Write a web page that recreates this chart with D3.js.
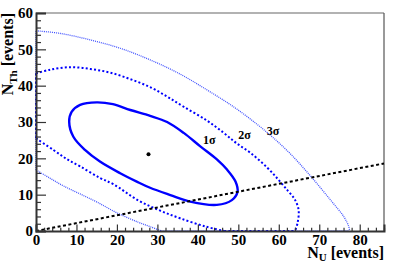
<!DOCTYPE html>
<html>
<head>
<meta charset="utf-8">
<script src="https://cdn.jsdelivr.net/npm/d3@7"></script>
<style>
  body { margin: 0; background: #fff; }
  svg { display: block; }
</style>
</head>
<body>
<svg width="407" height="264"></svg>
<script>
// axis ranges and ticks
var xDomain = [0, 86],
    yDomain = [0, 60];
var xMajor = [0, 10, 20, 30, 40, 50, 60, 70, 80],
    yMajor = [0, 10, 20, 30, 40, 50, 60];

// best fit point
var bestFit = [27.8, 21.1];

// 1 sigma contour (closed)
var c1x = [8.2, 8.8, 10.9, 15.0, 19.0, 23.3, 28.2, 32.4, 36.5, 40.6, 44.7, 47.2, 49.3, 49.8, 48.4, 44.7, 38.1, 33.2, 28.2, 24.9, 20.8, 15.8, 12.1, 9.2];
var c1y = [30.1, 32.8, 34.7, 35.4, 34.9, 33.3, 31.7, 30.0, 27.0, 23.3, 19.7, 16.9, 13.6, 10.8, 8.5, 7.2, 8.1, 9.9, 11.9, 13.6, 15.9, 19.1, 22.3, 26.0];

// 2 sigma contour, upper and lower arcs (clipped by the axes)
var c2UpX = [0, 3.5, 8.4, 13.4, 18.3, 23.3, 28.2, 32.4, 36.5, 42.1, 46.4, 49.5, 53.0, 57.1, 60.0, 62.3, 63.9, 64.9, 64.6, 64.0];
var c2UpY = [43.4, 44.4, 45.1, 44.6, 43.6, 41.8, 39.6, 37.0, 34.2, 30.5, 27.0, 24.2, 21.5, 17.5, 14.0, 11.0, 8.8, 5.8, 2.0, 0];
var c2LoX = [0, 4.3, 7.6, 10.9, 15.8, 19.1, 25.3, 30.7, 35.6, 42.0, 46.5];
var c2LoY = [25.5, 22.3, 19.8, 17.8, 14.6, 12.9, 8.4, 5.6, 3.5, 1.2, 0];

// 3 sigma contour, upper and lower arcs
var c3UpX = [0, 5.9, 13.4, 20.8, 28.2, 35.6, 42.3, 48.8, 54.6, 58.5, 62.9, 67.8, 72.8, 76.1, 77.3, 77.5];
var c3UpY = [55.1, 54.4, 52.6, 50.3, 47.1, 43.2, 38.8, 34.2, 29.4, 25.8, 21.2, 15.2, 8.5, 3.9, 1.2, 0];
var c3LoX = [0, 3.5, 6.8, 10.9, 15.0, 20.0, 25.3, 28.2, 31.0];
var c3LoY = [16.8, 14.5, 12.4, 10.2, 8.0, 5.0, 2.4, 1.2, 0];

// dashed reference line
var refX = [0, 86],
    refY = [0, 18.6];

// contour labels
var labels = ["1\u03c3", "2\u03c3", "3\u03c3"];
var labelX = [42.8, 51.5, 58.6],
    labelY = [24.0, 25.2, 26.3];

var serif = "'Liberation Serif', 'Times New Roman', serif";

var svg = d3.select("svg");
var x = d3.scaleLinear().domain(xDomain).range([36, 384]);
var y = d3.scaleLinear().domain(yDomain).range([231, 13]);

function pts(xs, ys) { return xs.map((v, i) => [v, ys[i]]); }

var line = d3.line().x(d => x(d[0])).y(d => y(d[1]));
var smooth = d3.line().x(d => x(d[0])).y(d => y(d[1])).curve(d3.curveCatmullRom);
var smoothClosed = d3.line().x(d => x(d[0])).y(d => y(d[1])).curve(d3.curveCatmullRomClosed);

// frame top and right
svg.append("line").attr("x1", 36).attr("x2", 384).attr("y1", 13).attr("y2", 13)
    .attr("stroke", "#999").attr("stroke-width", 1.5);
svg.append("line").attr("x1", 384).attr("x2", 384).attr("y1", 13).attr("y2", 231)
    .attr("stroke", "#555").attr("stroke-width", 1.2);

var g = svg.append("g");

function drawContour(up, lo, style) {
  var p = g.append("g").attr("fill", "none").attr("stroke", style.color)
      .attr("stroke-width", style.w).attr("stroke-dasharray", style.dash);
  p.append("path").attr("d", smooth(up));
  p.append("path").attr("d", smooth(lo));
  // edges along the axes
  p.append("path").attr("d", line([lo[0], up[0]]));
  p.append("path").attr("d", line([lo[lo.length - 1], up[up.length - 1]]));
}
drawContour(pts(c3UpX, c3UpY), pts(c3LoX, c3LoY), {color: "#4455ff", w: 1.3, dash: "1,1"});
drawContour(pts(c2UpX, c2UpY), pts(c2LoX, c2LoY), {color: "#0000ff", w: 2, dash: "2,2.2"});

g.append("path").attr("d", smoothClosed(pts(c1x, c1y)))
    .attr("fill", "none").attr("stroke", "#0000ff").attr("stroke-width", 2.4);

g.append("path").attr("d", line(pts(refX, refY)))
    .attr("fill", "none").attr("stroke", "#000").attr("stroke-width", 2)
    .attr("stroke-dasharray", "3,2.5");

g.append("circle").attr("cx", x(bestFit[0])).attr("cy", y(bestFit[1])).attr("r", 2).attr("fill", "#000");

g.selectAll("text.lab").data(labels).enter().append("text")
    .attr("class", "lab")
    .attr("x", (d, i) => x(labelX[i])).attr("y", (d, i) => y(labelY[i]))
    .attr("text-anchor", "middle")
    .attr("font-family", serif).attr("font-size", 12).attr("font-weight", "bold")
    .text(d => d);

// axes (ticks point inward, ROOT style)
var xMinor = d3.range(0, 87, 2).filter(v => v % 10 !== 0);
var yMinor = d3.range(0, 61, 2).filter(v => v % 10 !== 0);

svg.append("g").attr("transform", "translate(0,231)")
    .call(d3.axisBottom(x).tickValues(xMajor).tickSize(-6.5).tickPadding(3).tickFormat(d3.format("d")));
svg.append("g").attr("transform", "translate(0,231)")
    .call(d3.axisBottom(x).tickValues(xMinor).tickSize(-3.3).tickFormat(""))
    .call(s => s.select(".domain").remove());
svg.append("g").attr("transform", "translate(36,0)")
    .call(d3.axisLeft(y).tickValues(yMajor).tickSize(-10).tickPadding(3).tickFormat(d3.format("d")));
svg.append("g").attr("transform", "translate(36,0)")
    .call(d3.axisLeft(y).tickValues(yMinor).tickSize(-5).tickFormat(""))
    .call(s => s.select(".domain").remove());

svg.selectAll("g").attr("font-family", null);
svg.selectAll(".domain").attr("stroke", "#333").attr("stroke-width", 2);
svg.selectAll(".tick line").attr("stroke", "#333").attr("stroke-width", 1.2);
svg.selectAll(".tick text").attr("fill", "#000")
    .attr("font-family", serif).attr("font-size", 15).attr("font-weight", "bold");

// axis titles
var xt = svg.append("text").attr("x", 384).attr("y", 258).attr("text-anchor", "end")
    .attr("font-family", serif).attr("font-size", 16).attr("font-weight", "bold");
xt.append("tspan").text("N");
xt.append("tspan").attr("font-size", 11).attr("dy", 3).text("U");
xt.append("tspan").attr("dy", -3).text(" [events]");

var yt = svg.append("text").attr("transform", "translate(13,13) rotate(-90)")
    .attr("text-anchor", "end")
    .attr("font-family", serif).attr("font-size", 16).attr("font-weight", "bold");
yt.append("tspan").text("N");
yt.append("tspan").attr("font-size", 11).attr("dy", 4).text("Th");
yt.append("tspan").attr("dy", -4).text(" [events]");
</script>
</body>
</html>
